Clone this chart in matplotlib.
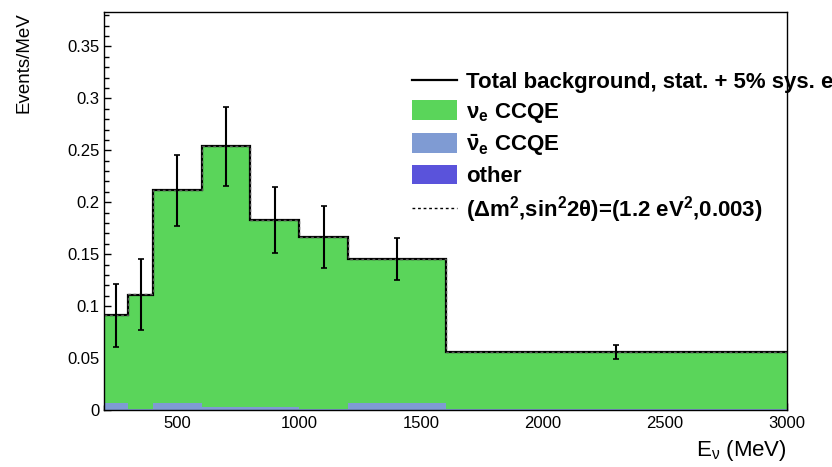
import numpy as np
import matplotlib
matplotlib.use("Agg")
import matplotlib.pyplot as plt
from matplotlib.patches import Patch
from matplotlib.lines import Line2D
from matplotlib.ticker import MultipleLocator

plt.rcParams["font.family"] = ["Liberation Sans", "DejaVu Sans"]
plt.rcParams["mathtext.fontset"] = "custom"
plt.rcParams["mathtext.rm"] = "Liberation Sans"
plt.rcParams["mathtext.it"] = "Liberation Sans"
plt.rcParams["mathtext.bf"] = "Liberation Sans:bold"

# bin edges in MeV
edges = [200, 300, 400, 600, 800, 1000, 1200, 1600, 3000]

# stacked components, Events/MeV
other = [0.0003, 0.0003, 0.0003, 0.0003, 0.0003, 0.0003, 0.0003, 0.0003]
nuebar_ccqe = [0.0068, 0.0010, 0.0068, 0.0030, 0.0030, 0.0010, 0.0068, 0.0010]
nue_ccqe = [0.0842, 0.1097, 0.2044, 0.2507, 0.1797, 0.1651, 0.1383, 0.0544]
# oscillation signal on top of background
signal = [0.0004, 0.0004, 0.0004, 0.0004, 0.0003, 0.0003, 0.0002, 0.0001]
# stat + 5% sys error
errors = [0.0304, 0.0340, 0.0342, 0.0380, 0.0316, 0.0298, 0.0202, 0.0070]

GREEN = "#5ad55a"
LIGHTBLUE = "#7f9bd3"
PURPLE = "#5a53db"

edges = np.array(edges, dtype=float)
other = np.array(other)
nuebar_ccqe = np.array(nuebar_ccqe)
nue_ccqe = np.array(nue_ccqe)
total = other + nuebar_ccqe + nue_ccqe
centers = 0.5 * (edges[:-1] + edges[1:])

fig = plt.figure(figsize=(8.32, 4.67), dpi=100)
ax = fig.add_axes([0.125, 0.122, 0.821, 0.852])

ax.stairs(other, edges, baseline=0, fill=True, color=PURPLE, lw=0)
ax.stairs(other + nuebar_ccqe, edges, baseline=other, fill=True,
          color=LIGHTBLUE, lw=0)
ax.stairs(total, edges, baseline=other + nuebar_ccqe, fill=True,
          color=GREEN, lw=0)

ax.stairs(total, edges, baseline=None, color="black", lw=1.6, zorder=3)
ax.stairs(total + np.array(signal), edges, baseline=None, color="#555555",
          lw=1.0, ls=(0, (2, 2)), zorder=3.5)
ax.errorbar(centers, total, yerr=errors, fmt="none", ecolor="black",
            elinewidth=1.5, capsize=2.2, capthick=1.2, zorder=4)

ax.set_xlim(200, 3000)
ax.set_ylim(0, 0.383)
ax.set_axisbelow(True)
ax.xaxis.set_major_locator(MultipleLocator(500))
ax.xaxis.set_minor_locator(MultipleLocator(100))
ax.yaxis.set_major_locator(MultipleLocator(0.05))
ax.yaxis.set_minor_locator(MultipleLocator(0.01))
ax.tick_params(which="both", direction="in", labelsize=12, width=1)
ax.tick_params(which="major", length=5)
ax.tick_params(which="minor", length=3.5)
ax.tick_params(axis="y", pad=3)
ax.tick_params(axis="x", pad=4)
ax.set_yticks(np.arange(0, 0.36, 0.05))
ax.set_yticklabels(["0", "0.05", "0.1", "0.15", "0.2", "0.25", "0.3", "0.35"])
ax.set_xticks([500, 1000, 1500, 2000, 2500, 3000])
ax.set_xticklabels(["500", "1000", "1500", "2000", "2500", "3000"])
for sp in ax.spines.values():
    sp.set_linewidth(1.0)
    sp.set_zorder(6)

ax.set_ylabel("Events/MeV", fontsize=13.5, loc="top", labelpad=25)
ax.set_xlabel(r"E$_\nu$ (MeV)", fontsize=16, loc="right", labelpad=5)

handles = [
    Line2D([], [], color="black", lw=1.6),
    Patch(facecolor=GREEN, edgecolor="none"),
    Patch(facecolor=LIGHTBLUE, edgecolor="none"),
    Patch(facecolor=PURPLE, edgecolor="none"),
    Line2D([], [], color="black", lw=1.0, ls=(0, (2, 2))),
]
labels = [
    "Total background, stat. + 5% sys. error",
    r"$\mathbf{\nu_e}$ CCQE",
    r"$\mathbf{\bar{\nu}_e}$ CCQE",
    "other",
    r"($\mathbf{\Delta m^2}$,$\mathbf{sin^2 2\theta}$)=(1.2 $\mathbf{eV^2}$,0.003)",
]
# the legend runs past the right edge of the canvas, as in the original
leg = ax.legend(handles, labels, loc="upper left", bbox_to_anchor=(0.451, 0.852),
                frameon=False, prop={"weight": "bold", "size": 16},
                handlelength=2.03, handleheight=0.95, handletextpad=0.4,
                labelspacing=0.32, borderaxespad=0, borderpad=0)
leg.set_zorder(5)

fig.savefig("out.png", dpi=100)
